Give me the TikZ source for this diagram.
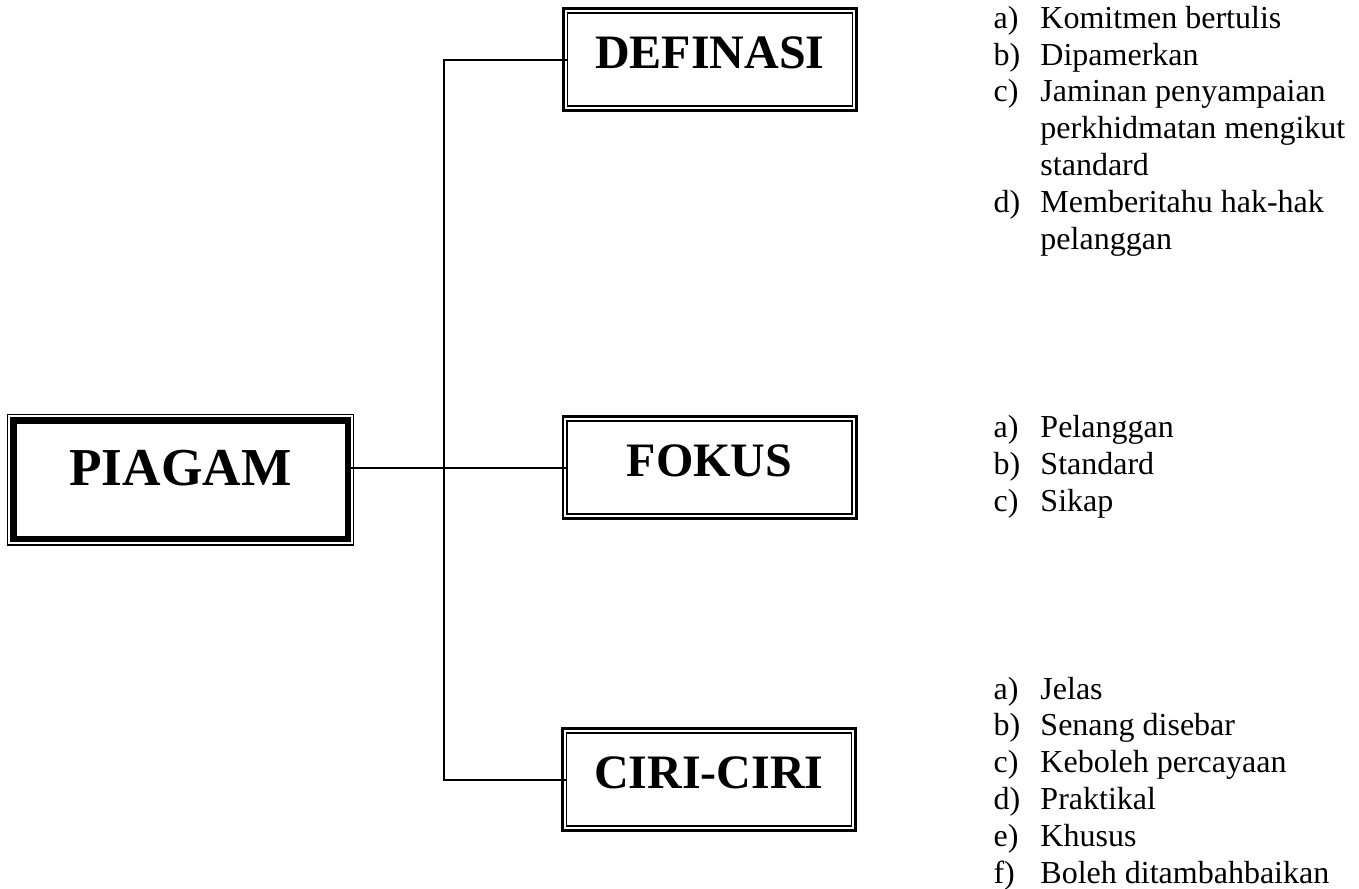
\documentclass[tikz,border=0pt]{standalone}
\usepackage{fontspec}
\setmainfont{Liberation Serif}
\usepackage{tikz}
\tikzset{
  kotak/.style={draw, line width=0.55pt, inner sep=0pt, outer sep=0pt,
    minimum width=106.8pt, minimum height=35pt, text depth=5pt,
    font=\bfseries\fontsize{18}{21.6}\selectfont},
  bingkai/.style={line width=1.1pt},
  garis/.style={line width=0.75pt},
  senarai/.style={align=left, anchor=base west, inner sep=0pt,
    font=\fontsize{12}{13.8}\selectfont}
}
\newcommand{\lbl}[1]{\makebox[17.6pt][l]{#1}}

\begin{document}
\begin{tikzpicture}[x=0.375pt, y=-0.375pt]
        \useasboundingbox (0,0) rectangle (1359,888);
        % Main box
        \node[draw, line width=2.5pt, inner sep=0pt, outer sep=0pt,
          minimum width=125.5pt, minimum height=44.4pt, text depth=9pt,
          font=\bfseries\fontsize{20}{24}\selectfont] (piagam) at (180.5,479.8) {PIAGAM};
        \draw[line width=0.55pt] ([shift={(-2.2pt,-2.2pt)}]piagam.south west)
          rectangle ([shift={(2.2pt,2.2pt)}]piagam.north east);
        % Branch boxes
        \node[kotak] (definasi) at (710,59.5)  {DEFINASI};
        \node[kotak] (fokus)    at (709.5,467.5) {FOKUS};
        \node[kotak] (ciriciri) at (709,779.5) {CIRI-CIRI};
        \foreach \n in {definasi,fokus,ciriciri}{
          \draw[bingkai] ([shift={(-1.55pt,-1.55pt)}]\n.south west)
            rectangle ([shift={(1.55pt,1.55pt)}]\n.north east);
        }
        % Connectors
        \coordinate (simpang) at (444,468);
        \draw[garis] (piagam.east |- fokus.west) -- (fokus.west);
        \draw[garis] (definasi.west) -| (simpang) |- (ciriciri.west);
        % Lists (anchored at the baseline of the last line)
        \node[senarai] (senaraiDef) at (993,249) {\lbl{a)}Komitmen bertulis\\
          \lbl{b)}Dipamerkan\\ \lbl{c)}Jaminan penyampaian\\
          \lbl{}perkhidmatan mengikut\\ \lbl{}standard\\
          \lbl{d)}Memberitahu hak-hak\\ \lbl{}pelanggan};
        \node[senarai] (senaraiFok) at (993,511) {\lbl{a)}Pelanggan\\
          \lbl{b)}Standard\\ \lbl{c)}Sikap};
        \node[senarai] (senaraiCiri) at (993,883) {\lbl{a)}Jelas\\
          \lbl{b)}Senang disebar\\ \lbl{c)}Keboleh percayaan\\
          \lbl{d)}Praktikal\\ \lbl{e)}Khusus\\ \lbl{f)}Boleh ditambahbaikan};
\end{tikzpicture}
\end{document}
